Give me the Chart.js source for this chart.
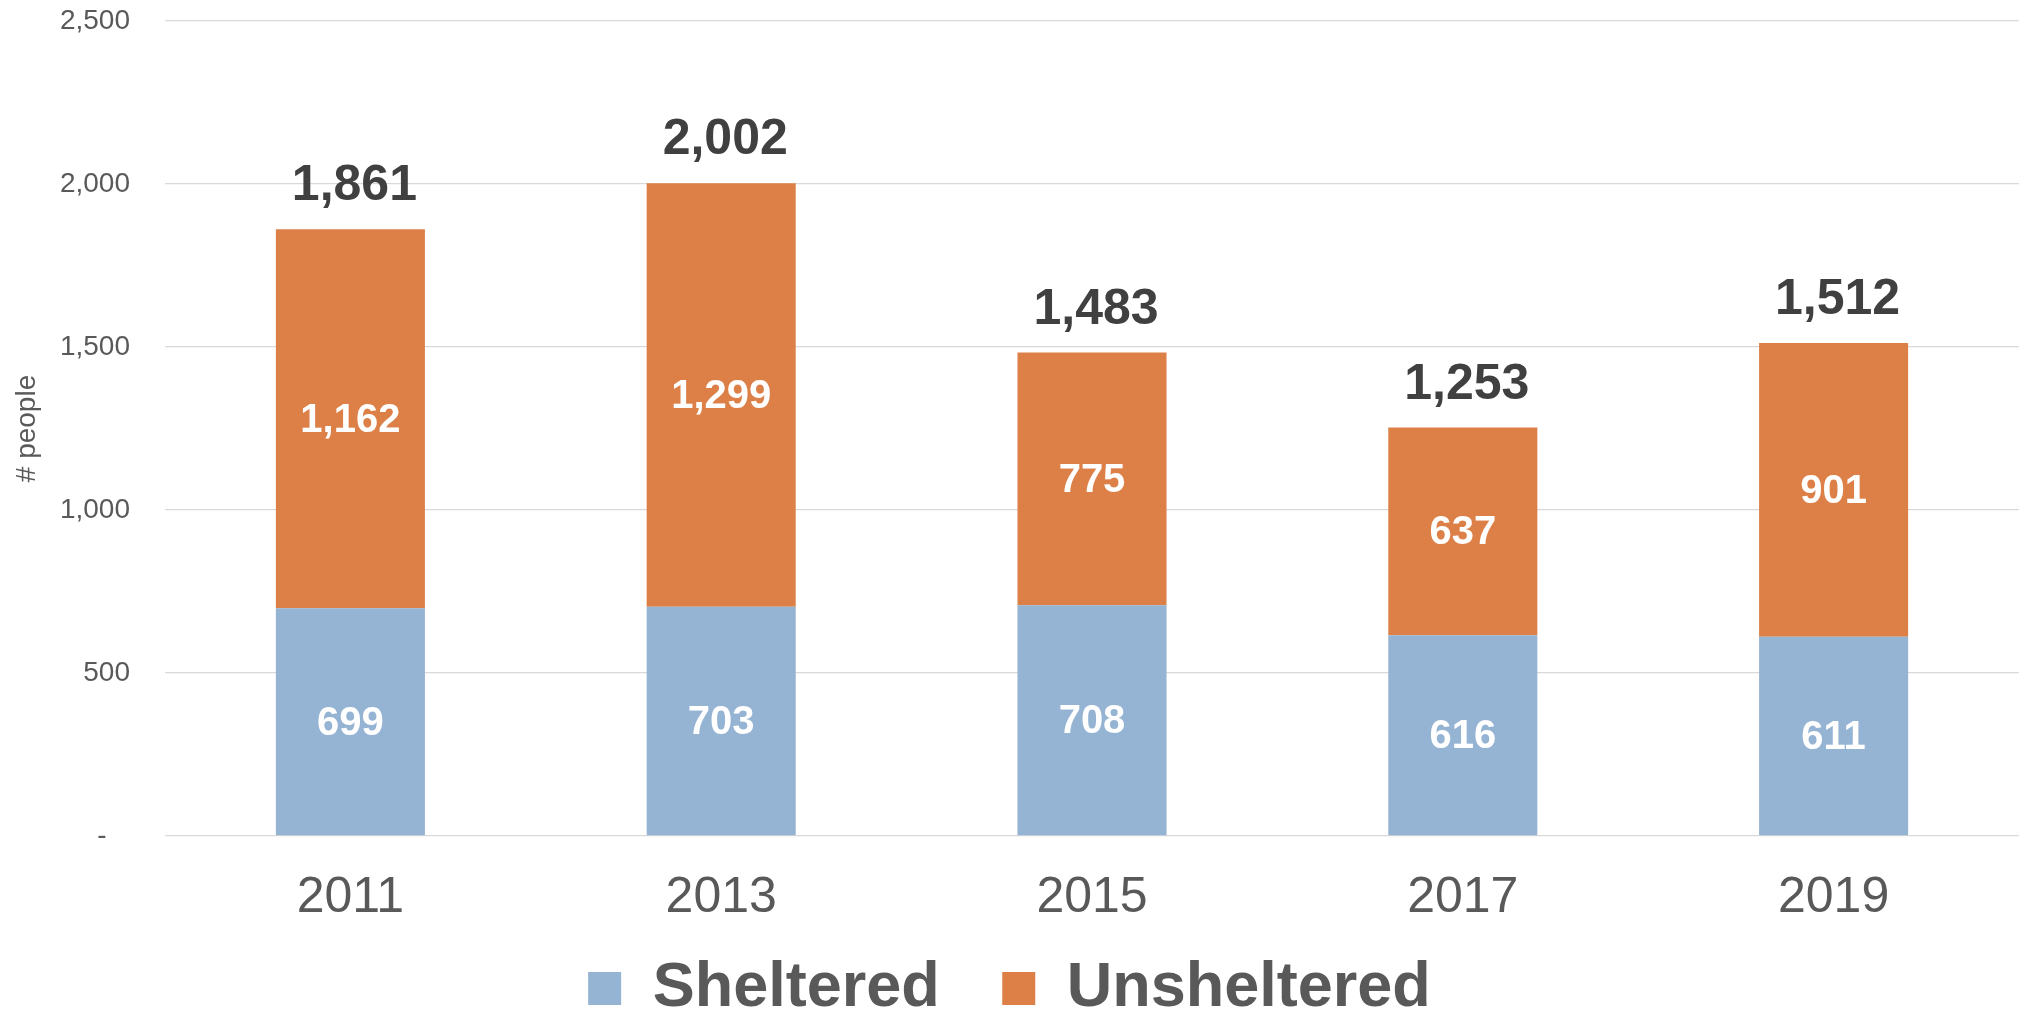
<!DOCTYPE html>
<html>
<head>
<meta charset="utf-8">
<script src="https://cdn.jsdelivr.net/npm/chart.js@4.4.0/dist/chart.umd.min.js"></script>
<style>
  html, body { margin: 0; padding: 0; background: #fff; }
  #wrap { width: 2028px; height: 1013px; }
</style>
</head>
<body>
<div id="wrap"><canvas id="chart"></canvas></div>
<script>
const years = ["2011", "2013", "2015", "2017", "2019"]
const sheltered = [699, 703, 708, 616, 611]
const unsheltered = [1162, 1299, 775, 637, 901]
const totals = [1861, 2002, 1483, 1253, 1512]
const yTicks = [0, 500, 1000, 1500, 2000, 2500]

const fmt = (v) => v.toLocaleString('en-US')

// labels inside bars + totals above
const barLabels = {
    id: 'barLabels',
    afterDatasetsDraw(chart) {
        const ctx = chart.ctx
        ctx.save()
        ctx.textAlign = 'center'
        chart.data.datasets.forEach((ds, di) => {
            const meta = chart.getDatasetMeta(di)
            meta.data.forEach((bar, i) => {
                ctx.font = 'bold 40px "Liberation Sans", Arial, sans-serif'
                ctx.fillStyle = '#ffffff'
                ctx.textBaseline = 'middle'
                ctx.fillText(fmt(ds.data[i]), bar.x, (bar.y + bar.base) / 2 + 2)
                if (di === chart.data.datasets.length - 1) {
                    ctx.font = 'bold 50px "Liberation Sans", Arial, sans-serif'
                    ctx.fillStyle = '#404040'
                    ctx.textBaseline = 'alphabetic'
                    ctx.fillText(fmt(totals[i]), bar.x + 4, bar.y - 29)
                }
            })
        })
        ctx.restore()
    }
}

Chart.defaults.font.family = '"Liberation Sans", Arial, sans-serif'
Chart.defaults.color = '#595959'

new Chart(document.getElementById('chart'), {
    type: 'bar',
    data: {
        labels: years,
        datasets: [{
            label: 'Sheltered',
            data: sheltered,
            backgroundColor: '#95B3D3',
            categoryPercentage: 1,
            barPercentage: 0.402
        }, {
            label: 'Unsheltered',
            data: unsheltered,
            backgroundColor: '#DD8048',
            categoryPercentage: 1,
            barPercentage: 0.402
        }]
    },
    options: {
        responsive: true,
        maintainAspectRatio: false,
        animation: false,
        layout: {
            padding: { left: 0, right: 9, top: 21, bottom: -17 }
        },
        plugins: {
            legend: {
                position: 'bottom',
                labels: {
                    boxWidth: 33,
                    boxHeight: 33,
                    padding: 10,
                    color: '#595959',
                    font: { size: 63, weight: 'bold' },
                    generateLabels: (chart) => Chart.defaults.plugins.legend.labels.generateLabels(chart).map((l, i) => {
                        if (i === 0) l.text = l.text + '   '
                        return l
                    })
                }
            },
            tooltip: { enabled: false }
        },
        scales: {
            x: {
                stacked: true,
                grid: { display: false, drawTicks: false },
                border: { display: false },
                ticks: { color: '#595959', font: { size: 50 }, padding: 32 },
                afterFit: (scale) => { scale.height = 111 }
            },
            y: {
                stacked: true,
                min: 0,
                max: 2500,
                afterBuildTicks: (scale) => { scale.ticks = yTicks.map(v => ({ value: v })) },
                grid: { color: '#D9D9D9', lineWidth: 1.3, drawTicks: true, tickLength: 35, tickColor: 'rgba(0,0,0,0)' },
                border: { display: false },
                ticks: {
                    color: '#595959',
                    font: { size: 28 },
                    padding: 0,
                    callback: (v) => v === 0 ? '-   ' : fmt(v)
                },
                title: {
                    display: true,
                    text: '# people',
                    color: '#595959',
                    font: { size: 28 },
                    padding: { top: 10, bottom: 0 }
                },
                afterFit: (scale) => { scale.width = 165 }
            }
        }
    },
    plugins: [barLabels]
})
</script>
</body>
</html>
